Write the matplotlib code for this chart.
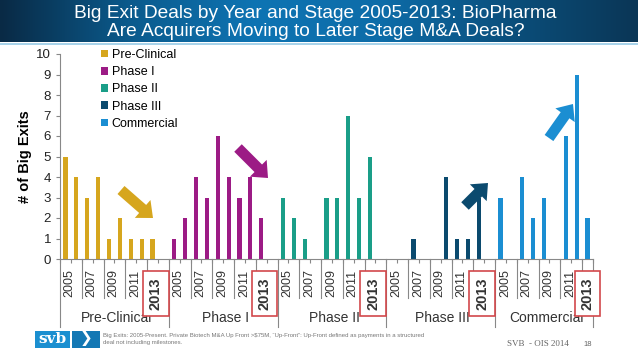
import numpy as np
import matplotlib.pyplot as plt
import matplotlib.transforms as mtransforms
from matplotlib.patches import Rectangle, FancyArrowPatch
from matplotlib.colors import LinearSegmentedColormap

plt.rcParams['font.family'] = ['Liberation Sans', 'DejaVu Sans']

# data
years = ['2005', '2006', '2007', '2008', '2009', '2010', '2011', '2012', '2013']
stages = ['Pre-Clinical', 'Phase I', 'Phase II', 'Phase III', 'Commercial']
pre_clinical = [5, 4, 3, 4, 1, 2, 1, 1, 1]
phase_1 = [1, 2, 4, 3, 6, 4, 3, 4, 2]
phase_2 = [3, 2, 1, 0, 3, 3, 7, 3, 5]
phase_3 = [0, 0, 1, 0, 0, 4, 1, 1, 3]
commercial = [3, 0, 4, 2, 3, 0, 6, 9, 2]
series = [pre_clinical, phase_1, phase_2, phase_3, commercial]
colors = ['#D6A61E', '#9C1B85', '#1A9E88', '#0B4A6E', '#1B8ED2']

W, H = 638, 359
fig = plt.figure(figsize=(W / 100, H / 100), dpi=100)

# title banner
bax = fig.add_axes([0, 1 - 42 / H, 1, 42 / H])
grad = LinearSegmentedColormap.from_list(
    'banner', ['#092a45', '#0b5a8c', '#0e74b3', '#0d6ca8', '#0b4f7c', '#0a3656'])
bax.imshow(np.linspace(0, 1, 256)[None, :], aspect='auto', cmap=grad,
           extent=[0, 1, 0, 1])
bax.axis('off')
fig.add_artist(Rectangle((0, 1 - 45 / H), 1, 2 / H, transform=fig.transFigure,
                         color='#a8d3ea', lw=0))
fig.text(315 / W, 1 - 13 / H, 'Big Exit Deals by Year and Stage 2005-2013: BioPharma',
         color='white', fontsize=13.8, ha='center', va='center')
fig.text(316 / W, 1 - 31 / H, 'Are Acquirers Moving to Later Stage M&A Deals?',
         color='white', fontsize=13.8, ha='center', va='center')

# chart
ax = fig.add_axes([60 / W, 1 - 259 / H, 533 / W, 205 / H])
for g, vals in enumerate(series):
    x = g * 10 + np.arange(len(years))
    ax.bar(x, vals, width=0.38, color=colors[g], label=stages[g])

ax.set_xlim(-0.5, 48.5)
ax.set_ylim(0, 10)
ax.set_yticks(range(0, 11))
ax.tick_params(axis='y', labelsize=9.5, length=3, color='#888888', labelcolor='#222222')
ax.set_xticks(np.arange(-0.5, 49, 1))
ax.set_xticklabels([])
ax.tick_params(axis='x', length=3, color='#888888')
for s in ['top', 'right']:
    ax.spines[s].set_visible(False)
for s in ['left', 'bottom']:
    ax.spines[s].set_color('#888888')
ax.set_ylabel('# of Big Exits', fontsize=10.5, fontweight='bold', labelpad=3)

trans = mtransforms.blended_transform_factory(ax.transData, ax.transAxes)

# category separators and labels
for g, name in enumerate(stages):
    start = g * 10 - 0.5
    end = 48.5 if g == 4 else start + 10
    ax.plot([start, start], [0, -0.33], transform=trans, color='#888888',
            lw=0.8, clip_on=False)
    for k in range(1, 5):
        xs = start + 2 * k
        ax.plot([xs, xs], [0, -0.19], transform=trans, color='#888888',
                lw=0.8, clip_on=False)
    for i in range(0, 8, 2):
        ax.text(g * 10 + i + 0.4, -0.118, years[i], transform=trans, rotation=90,
                ha='center', va='center', fontsize=9, color='#333333')
    xl = 48.0 if g == 4 else g * 10 + 8.3
    ax.text(xl, -0.168, years[8], transform=trans, rotation=90, ha='center',
            va='center', fontsize=10.5, fontweight='bold', color='#333333',
            bbox=dict(boxstyle='square,pad=0.4', fc='white', ec='#d2484b', lw=1.2))
    ax.text((start + end) / 2 + 0.2, -0.29, name, transform=trans, ha='center',
            va='center', fontsize=10, color='#333333', zorder=1)
ax.plot([48.5, 48.5], [0, -0.33], transform=trans, color='#888888', lw=0.8,
        clip_on=False)

ax.legend(loc='upper left', bbox_to_anchor=(0.076, 1.025), frameon=False,
          fontsize=9, handlelength=0.6, handleheight=0.6, handletextpad=0.3,
          labelspacing=0.42, borderpad=0, borderaxespad=0)

# trend arrows
arrows = [((121, 190), (153, 218), colors[0]),
          ((238, 148), (268, 178), colors[1]),
          ((465, 206), (488, 183), colors[3]),
          ((549, 138), (573, 104), colors[4])]
for (x0, y0), (x1, y1), c in arrows:
    fig.add_artist(FancyArrowPatch(
        (x0 / W, 1 - y0 / H), (x1 / W, 1 - y1 / H), transform=fig.transFigure,
        arrowstyle='simple,head_width=1.9,head_length=1.1,tail_width=0.85',
        mutation_scale=9, color=c, lw=0, shrinkA=0, shrinkB=0))

# footer
fig.add_artist(Rectangle((35 / W, 1 - 348 / H), 35 / W, 17 / H,
                         transform=fig.transFigure, color='#1b8fd0', lw=0))
fig.add_artist(Rectangle((72 / W, 1 - 348 / H), 28 / W, 17 / H,
                         transform=fig.transFigure, color='#1478b4', lw=0))
fig.text(52 / W, 1 - 339 / H, 'svb', color='white', fontsize=11, fontweight='bold',
         family='DejaVu Serif', ha='center', va='center')
fig.text(86 / W, 1 - 339 / H, '\u276F', color='white', fontsize=11,
         family='DejaVu Sans', ha='center', va='center')
fig.text(103 / W, 1 - 339 / H,
         'Big Exits: 2005-Present. Private Biotech M&A Up Front >$75M, \u201cUp-Front\u201d: '
         'Up-Front defined as payments in a structured\ndeal not including milestones.',
         color='#777777', fontsize=4.3, ha='left', va='center', linespacing=1.3)
fig.text(507 / W, 1 - 344 / H, 'SVB  - OIS 2014', color='#666666', fontsize=6.5,
         family='Liberation Serif', ha='left', va='center')
fig.text(588 / W, 1 - 344 / H, '18', color='#666666', fontsize=5.5,
         ha='center', va='center')

fig.savefig('out.png', dpi=100)
